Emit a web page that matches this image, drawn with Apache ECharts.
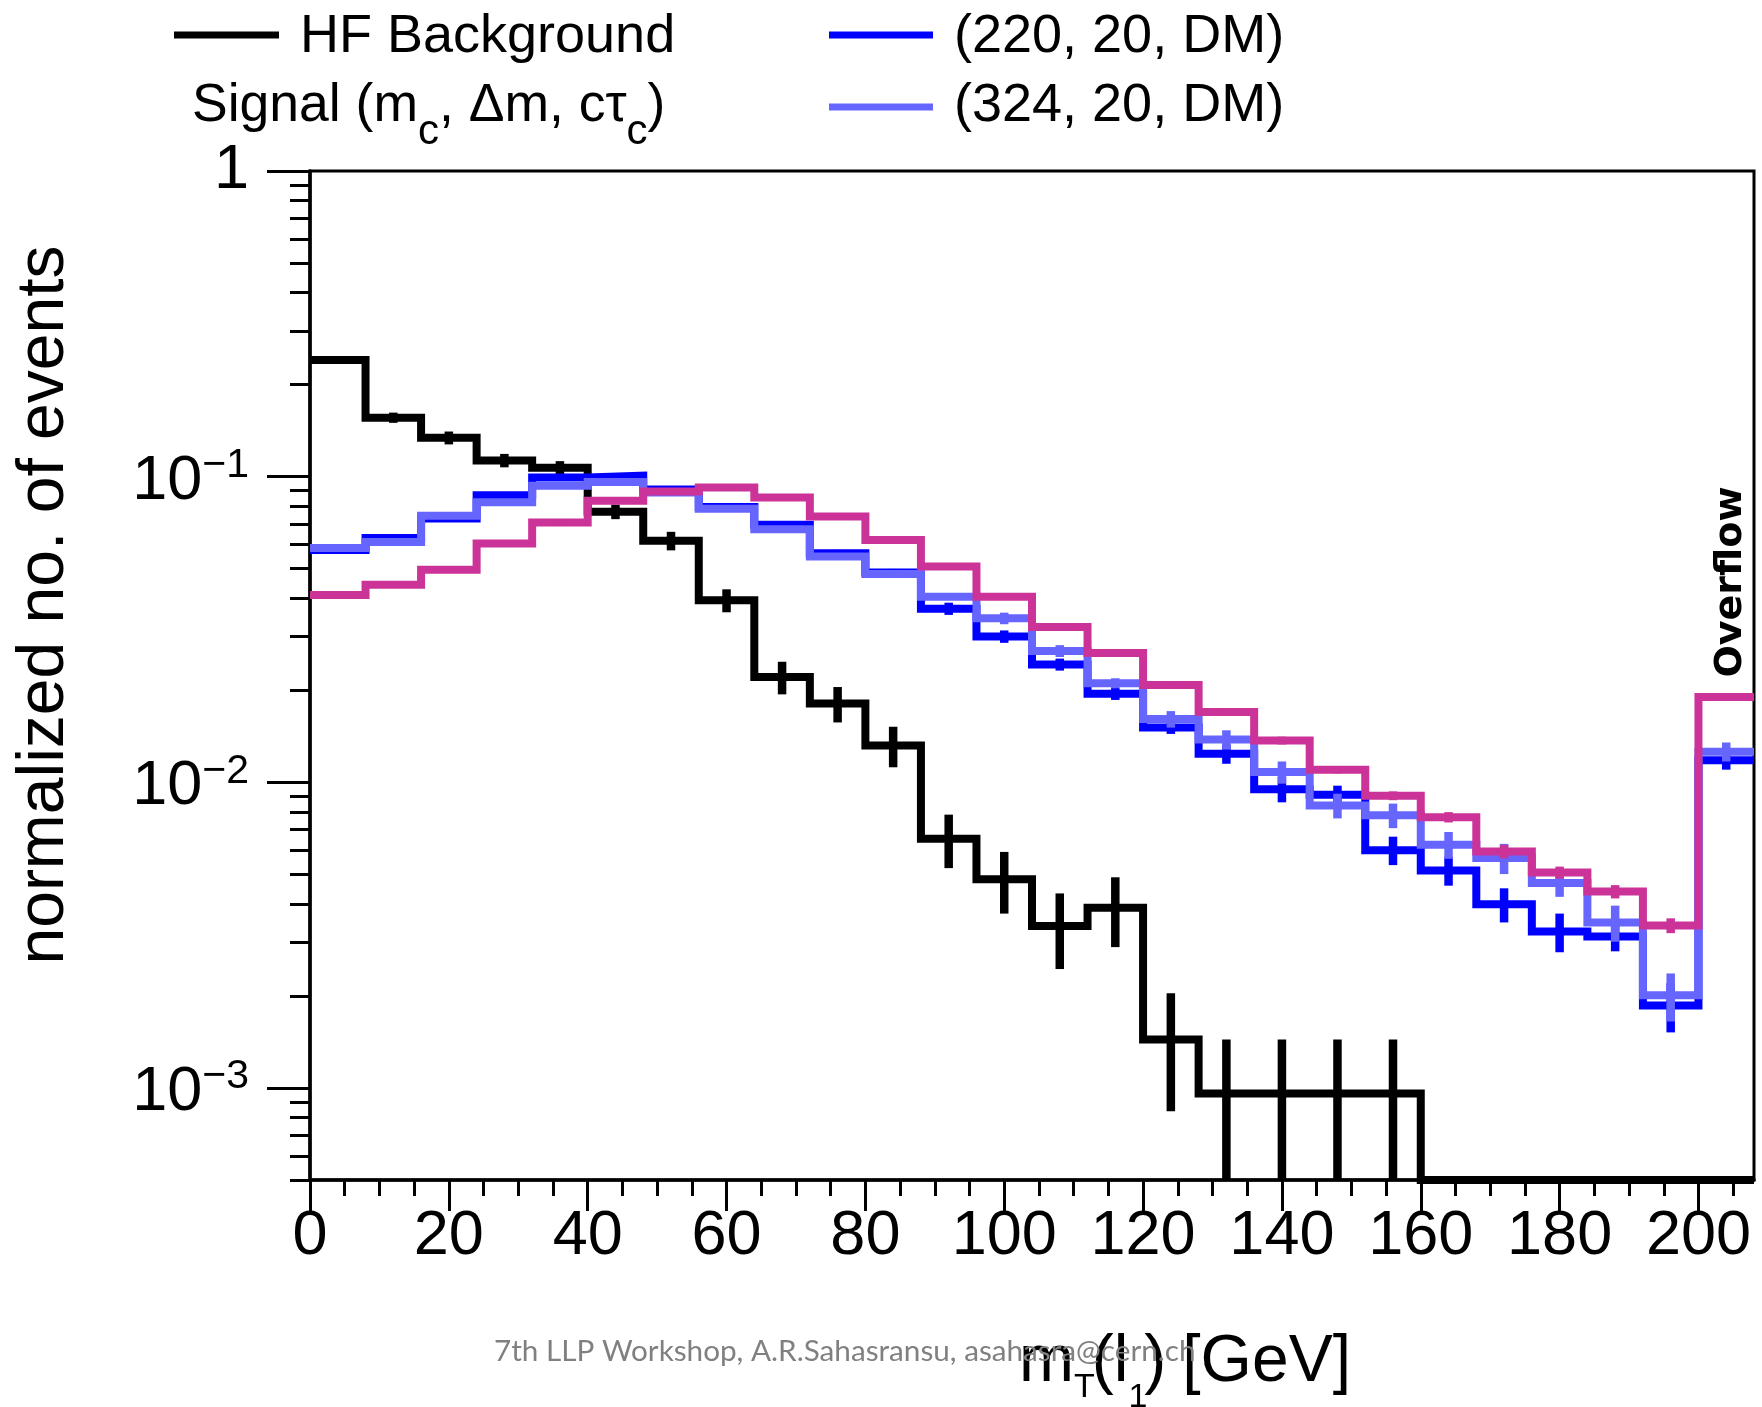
<!DOCTYPE html>
<html>
<head>
<meta charset="utf-8">
<script src="https://cdn.jsdelivr.net/npm/echarts@6/dist/echarts.min.js"></script>
<style>
  html, body { margin: 0; padding: 0; background: #ffffff; }
  #chart { width: 1762px; height: 1407px; }
</style>
</head>
<body>
<div id="chart"></div>
<script>
// ---- binning: 8 GeV bins, last bin is the overflow drawn over [200, 208] ----
const BIN_LOW  = [0, 8, 16, 24, 32, 40, 48, 56, 64, 72, 80, 88, 96, 104, 112, 120, 128, 136, 144, 152, 160, 168, 176, 184, 192, 200];
const BIN_HIGH = [8, 16, 24, 32, 40, 48, 56, 64, 72, 80, 88, 96, 104, 112, 120, 128, 136, 144, 152, 160, 168, 176, 184, 192, 200, 208];

// ---- normalized distributions of mT(l1) ----
const HF_BKG = [0.241, 0.156, 0.134, 0.113, 0.107, 0.0768, 0.0617, 0.0394, 0.0221, 0.0181, 0.0132, 0.00654, 0.00482,
                0.00339, 0.00389, 0.00144, 0.00096, 0.00096, 0.00096, 0.00096, 0, 0, 0, 0, 0, 0];
const HF_BKG_ERR = [0.004, 0.006, 0.0065, 0.0057, 0.0054, 0.0042, 0.0043, 0.0034, 0.0027, 0.0024, 0.002, 0.0013, 0.0011,
                    0.00094, 0.001, 0.0006, 0.00048, 0.00048, 0.00048, 0.00048, 0, 0, 0, 0, 0, 0];

const SIG_220 = [0.0576, 0.063, 0.073, 0.0869, 0.0993, 0.1007, 0.0908, 0.0795, 0.0696, 0.0562, 0.0486, 0.037, 0.03,
                 0.0243, 0.0195, 0.0151, 0.0124, 0.0095, 0.0091, 0.006, 0.00515, 0.00399, 0.00325, 0.00313, 0.00186, 0.0118];
const SIG_220_ERR = [0.0012, 0.0013, 0.0015, 0.0017, 0.002, 0.002, 0.0019, 0.0017, 0.0016, 0.0014, 0.0013, 0.0017, 0.0014,
                     0.0011, 0.0009, 0.0007, 0.0009, 0.0009, 0.00065, 0.00064, 0.00056, 0.00051, 0.00047, 0.00033, 0.00034, 0.0008];

const SIG_324 = [0.0584, 0.0611, 0.0745, 0.0824, 0.0934, 0.096, 0.0887, 0.0785, 0.0673, 0.0548, 0.048, 0.0405, 0.0344,
                 0.0269, 0.0211, 0.0161, 0.0138, 0.0108, 0.0084, 0.0078, 0.00625, 0.00565, 0.00468, 0.00348, 0.00201, 0.0126];
const SIG_324_ERR = [0.0012, 0.0012, 0.0014, 0.0015, 0.0017, 0.0017, 0.0016, 0.0015, 0.0014, 0.0012, 0.0011, 0.001, 0.0015,
                     0.0012, 0.0008, 0.001, 0.001, 0.0009, 0.00078, 0.00072, 0.00063, 0.00064, 0.00046, 0.00047, 0.00036, 0.0009];

const SIG_MAGENTA = [0.041, 0.0443, 0.0496, 0.0604, 0.0708, 0.0834, 0.0895, 0.0922, 0.0855, 0.0741, 0.062, 0.0508, 0.0405,
                     0.0322, 0.0265, 0.0208, 0.017, 0.0137, 0.011, 0.00904, 0.00769, 0.00594, 0.00507, 0.00439, 0.0034, 0.019];
const SIG_MAGENTA_ERR = [0.0005, 0.0005, 0.0006, 0.0007, 0.0008, 0.001, 0.001, 0.0011, 0.001, 0.0009, 0.0008, 0.0007, 0.0006,
                         0.0005, 0.0005, 0.0004, 0.0004, 0.0004, 0.0003, 0.0003, 0.0003, 0.0003, 0.00023, 0.00022, 0.00019, 0.0005];

// ---- axis ticks ----
const X_MIN = 0, X_MAX = 208;
const X_MAJOR = [0, 20, 40, 60, 80, 100, 120, 140, 160, 180, 200];
const X_MINOR = [5, 10, 15, 25, 30, 35, 45, 50, 55, 65, 70, 75, 85, 90, 95, 105, 110, 115, 125, 130, 135,
                 145, 150, 155, 165, 170, 175, 185, 190, 195, 205];
const Y_MIN = 5e-4, Y_MAX = 1;
const Y_MAJOR = [0.001, 0.01, 0.1, 1];
const Y_MINOR = [5e-4, 6e-4, 7e-4, 8e-4, 9e-4,
                 0.002, 0.003, 0.004, 0.005, 0.006, 0.007, 0.008, 0.009,
                 0.02, 0.03, 0.04, 0.05, 0.06, 0.07, 0.08, 0.09,
                 0.2, 0.3, 0.4, 0.5, 0.6, 0.7, 0.8, 0.9];

const COL_BKG = '#000000';
const COL_220 = '#0000ff';
const COL_324 = '#6666ff';
const COL_MAG = '#cc3399';

const FONT = '"Liberation Sans", Arial, Helvetica, sans-serif';
const LINE_W = 8;
const ERR_W = 8.5;

// histogram outline: one point per lower bin edge, closed at the upper edge of the last bin
function stepPoints(vals) {
  const pts = vals.map((v, i) => [BIN_LOW[i], Math.max(v, Y_MIN)]);
  pts.push([BIN_HIGH[vals.length - 1], Math.max(vals[vals.length - 1], Y_MIN)]);
  return pts;
}

function histSeries(name, vals, color, z) {
  return {
    type: 'line', name, z, step: 'end', showSymbol: false, symbol: 'none',
    clip: false, silent: true, animation: false,
    lineStyle: { color, width: LINE_W, join: 'miter', cap: 'butt' },
    data: stepPoints(vals)
  };
}

// vertical error bars at bin centres
function errorSeries(name, vals, errs, color, z) {
  const data = [];
  vals.forEach((v, i) => {
    if (v > 0 && errs[i] > 0) data.push([(BIN_LOW[i] + BIN_HIGH[i]) / 2, v, errs[i]]);
  });
  return {
    type: 'custom', name, z, silent: true, clip: false, animation: false,
    encode: { x: 0, y: 1 },
    data,
    renderItem(params, api) {
      const x = api.value(0), v = api.value(1), e = api.value(2);
      const hi = api.coord([x, Math.min(v + e, Y_MAX)]);
      const lo = api.coord([x, Math.max(v - e, Y_MIN)]);
      return {
        type: 'line',
        shape: { x1: hi[0], y1: hi[1], x2: lo[0], y2: lo[1] },
        style: { stroke: color, lineWidth: ERR_W, lineCap: 'butt' }
      };
    }
  };
}

// ---- free text: pieces laid out along a baseline ----
const measureCtx = document.createElement('canvas').getContext('2d');
function textWidth(str, size, weight, family) {
  measureCtx.font = (weight || 'normal') + ' ' + size + 'px ' + (family || FONT);
  return measureCtx.measureText(str).width;
}
const MID = 0.30; // canvas "middle" line sits roughly this many em above the alphabetic baseline

function textEl(str, x, baseline, size, opts) {
  opts = opts || {};
  return {
    type: 'text', silent: true, z: 50,
    x, y: baseline - MID * size,
    rotation: opts.rotation || 0,
    style: {
      text: str, fontSize: size, fontFamily: opts.family || FONT, fontWeight: opts.weight || 'normal',
      fill: opts.color || '#000', align: opts.align || 'left', textAlign: opts.align || 'left',
      verticalAlign: 'middle', textVerticalAlign: 'middle'
    }
  };
}

function textRun(x, baseline, pieces) {
  const els = [];
  let cx = x;
  pieces.forEach(p => {
    els.push(textEl(p.t, cx, baseline + (p.dy || 0), p.size));
    cx += textWidth(p.t, p.size) + (p.kern || 0);
  });
  return els;
}

function legendLine(x1, x2, y, color) {
  return { type: 'line', silent: true, z: 50,
           shape: { x1, y1: y, x2, y2: y },
           style: { stroke: color, lineWidth: 7, lineCap: 'butt' } };
}

const graphics = [].concat(
  [legendLine(174, 279, 35, COL_BKG), textEl('HF Background', 300, 53, 54)],
  textRun(192, 122, [
    { t: 'Signal (m', size: 53.5 }, { t: 'c', size: 42, dy: 23 },
    { t: ', \u0394m, c\u03c4', size: 53.5 }, { t: 'c', size: 42, dy: 23 }, { t: ')', size: 53.5 }
  ]),
  [legendLine(829, 933, 35, COL_220), textEl('(220, 20, DM)', 954, 53, 54)],
  [legendLine(829, 933, 107, COL_324), textEl('(324, 20, DM)', 954, 122, 54)],
  // x-axis title: m_T(l_1) [GeV]
  textRun(1019, 1383, [
    { t: 'm', size: 66 }, { t: 'T', size: 34, dy: 15, kern: -3 },
    { t: '(l', size: 66 }, { t: '1', size: 34, dy: 25, kern: -3 }, { t: ')', size: 66 }
  ]),
  [textEl('[GeV]', 1351, 1383, 66, { align: 'right' })],
  [
    {
      type: 'text', silent: true, z: 50, x: 45, y: 605, rotation: Math.PI / 2,
      style: { text: 'normalized no. of events', fontSize: 66, fontFamily: FONT, fill: '#000',
               align: 'center', textAlign: 'center', verticalAlign: 'middle', textVerticalAlign: 'middle' }
    },
    {
      type: 'text', silent: true, z: 50, x: 1731, y: 582, rotation: Math.PI / 2,
      style: { text: 'Overflow', fontSize: 38, fontWeight: 'bold', fontFamily: '"DejaVu Sans", sans-serif', fill: '#000',
               align: 'center', textAlign: 'center', verticalAlign: 'middle', textVerticalAlign: 'middle' }
    },
    textEl('7th LLP Workshop, A.R.Sahasransu, asahasra@cern.ch', 494, 1360, 29.7,
           { family: 'Lato, "Open Sans", sans-serif', color: '#808080' })
  ]
);

const tickLine = { color: '#000', width: 3 };

const option = {
  animation: false,
  backgroundColor: '#ffffff',
  grid: { left: 310, top: 171, width: 1444, height: 1009, show: true,
          borderColor: '#000', borderWidth: 3, backgroundColor: 'transparent' },
  xAxis: [
    {
      type: 'value', min: X_MIN, max: X_MAX, position: 'bottom',
      axisLine: { show: true, onZero: false, lineStyle: { color: '#000', width: 3.5 } },
      axisTick: { show: true, inside: false, length: 31, customValues: X_MAJOR, lineStyle: tickLine },
      axisLabel: { show: true, customValues: X_MAJOR, margin: 25, fontSize: 63, lineHeight: 63,
                   fontFamily: FONT, color: '#000' },
      splitLine: { show: false }
    },
    {
      type: 'value', min: X_MIN, max: X_MAX, position: 'bottom',
      axisLine: { show: false, onZero: false },
      axisTick: { show: true, inside: false, length: 16, customValues: X_MINOR, lineStyle: tickLine },
      axisLabel: { show: false },
      splitLine: { show: false }
    }
  ],
  yAxis: [
    {
      type: 'log', logBase: 10, min: Y_MIN, max: Y_MAX, position: 'left',
      axisLine: { show: true, lineStyle: { color: '#000', width: 3.5 } },
      axisTick: { show: true, inside: false, length: 43, customValues: Y_MAJOR, lineStyle: tickLine },
      axisLabel: {
        show: true, customValues: Y_MAJOR, margin: 61,
        formatter: function (v) {
          const e = Math.round(Math.log10(v));
          return e === 0 ? '{one|1}' : '{b|10}{s|\u2212' + (-e) + '}';
        },
        rich: {
          one: { fontSize: 63, lineHeight: 63, fontFamily: FONT, color: '#000' },
          b: { fontSize: 63, lineHeight: 63, padding: [9, 0, 0, 0], fontFamily: FONT, color: '#000' },
          s: { fontSize: 41, lineHeight: 41, verticalAlign: 'top', fontFamily: FONT, color: '#000' }
        }
      },
      splitLine: { show: false }
    },
    {
      type: 'log', logBase: 10, min: Y_MIN, max: Y_MAX, position: 'left',
      axisLine: { show: false },
      axisTick: { show: true, inside: false, length: 20, customValues: Y_MINOR, lineStyle: tickLine },
      axisLabel: { show: false },
      splitLine: { show: false }
    }
  ],
  series: [
    histSeries('HF Background', HF_BKG, COL_BKG, 2),
    errorSeries('HF Background errors', HF_BKG, HF_BKG_ERR, COL_BKG, 3),
    histSeries('(220, 20, DM)', SIG_220, COL_220, 4),
    errorSeries('(220, 20, DM) errors', SIG_220, SIG_220_ERR, COL_220, 5),
    histSeries('(324, 20, DM)', SIG_324, COL_324, 6),
    errorSeries('(324, 20, DM) errors', SIG_324, SIG_324_ERR, COL_324, 7),
    histSeries('signal, third mass point', SIG_MAGENTA, COL_MAG, 8),
    errorSeries('signal, third mass point errors', SIG_MAGENTA, SIG_MAGENTA_ERR, COL_MAG, 9)
  ],
  graphic: graphics
};

const chart = echarts.init(document.getElementById('chart'), null, { renderer: 'canvas' });
chart.setOption(option);
</script>
</body>
</html>
